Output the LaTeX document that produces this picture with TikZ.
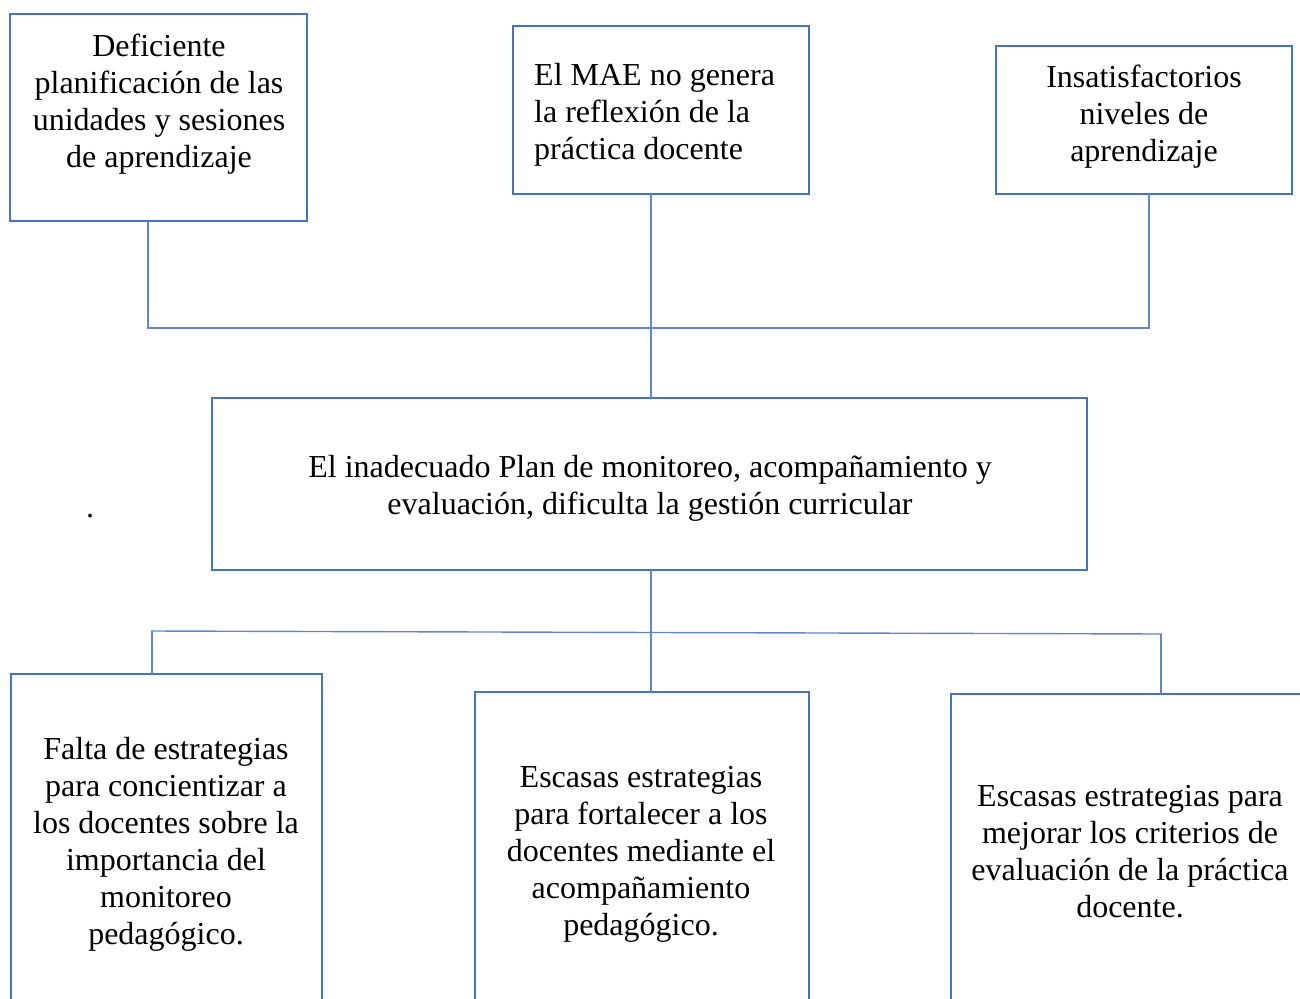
\documentclass[tikz,border=0pt]{standalone}
\usepackage{fontspec}
\setmainfont{Liberation Serif}
\definecolor{boxblue}{HTML}{4472C4}
\begin{document}
\begin{tikzpicture}[x=1pt,y=-1pt,
  box/.style={draw=boxblue,line width=2.6pt,inner sep=0pt,outer sep=0pt,anchor=north west},
  txt/.style={inner sep=0pt,align=center,font=\fontsize{32}{37}\selectfont},
  conn/.style={draw=boxblue!85,line width=1.4pt}]
\useasboundingbox (0,0) rectangle (1300,998);
\clip (0,0) rectangle (1300,998);
% top boxes
\node[box,minimum width=297pt,minimum height=207pt] (b1) at (10,14) {};
\node[box,minimum width=296pt,minimum height=168pt] (b2) at (513,26) {};
\node[box,minimum width=296pt,minimum height=148pt] (b3) at (996,46) {};
\node[txt] (t1) at (159,104) {Deficiente\\planificación de las\\unidades y sesiones\\de aprendizaje};
\node[txt,align=left,anchor=west] (t2) at (534,115) {El MAE no genera\\la reflexión de la\\práctica docente};
\node[txt] (t3) at (1144,117) {Insatisfactorios\\niveles de\\aprendizaje};
% center box
\node[box,minimum width=875pt,minimum height=172pt] (c) at (212,398) {};
\node[txt] (tc) at (650,488) {El inadecuado Plan de monitoreo, acompañamiento y\\evaluación, dificulta la gestión curricular};
\node[txt] (dot) at (90,516) {.};
% bottom boxes (open at bottom, cut by the page)
\node[box,minimum width=311pt,minimum height=340pt] (b4) at (11,674) {};
\node[box,minimum width=334pt,minimum height=320pt] (b5) at (475,692) {};
\node[box,minimum width=360pt,minimum height=320pt] (b6) at (951,694) {};
\node[txt] (t4) at (166,844) {Falta de estrategias\\para concientizar a\\los docentes sobre la\\importancia del\\monitoreo\\pedagógico.};
\node[txt] (t5) at (641,854) {Escasas estrategias\\para fortalecer a los\\docentes mediante el\\acompañamiento\\pedagógico.};
\node[txt] (t6) at (1130,852) {Escasas estrategias para\\mejorar los criterios de\\evaluación de la práctica\\docente.};
% connectors
\coordinate (h1) at (148,328);
\coordinate (h2) at (1149,328);
\coordinate (v) at (651,0);
\coordinate (l1) at (151,631);
\coordinate (l2) at (1162,634);
\coordinate (lv) at (152,631);
\coordinate (rv) at (1161,634);
\draw[conn] (b1.south -| h1) -- (h1) -- (h2) -- (b3.south -| h2);
\draw[conn] (b2.south -| v) -- (c.north -| v);
\draw[conn] (c.south -| v) -- (b5.north -| v);
\draw[conn] (l1) -- (l2);
\draw[conn] (lv) -- (b4.north -| lv);
\draw[conn] (rv) -- (b6.north -| rv);
\end{tikzpicture}
\end{document}
